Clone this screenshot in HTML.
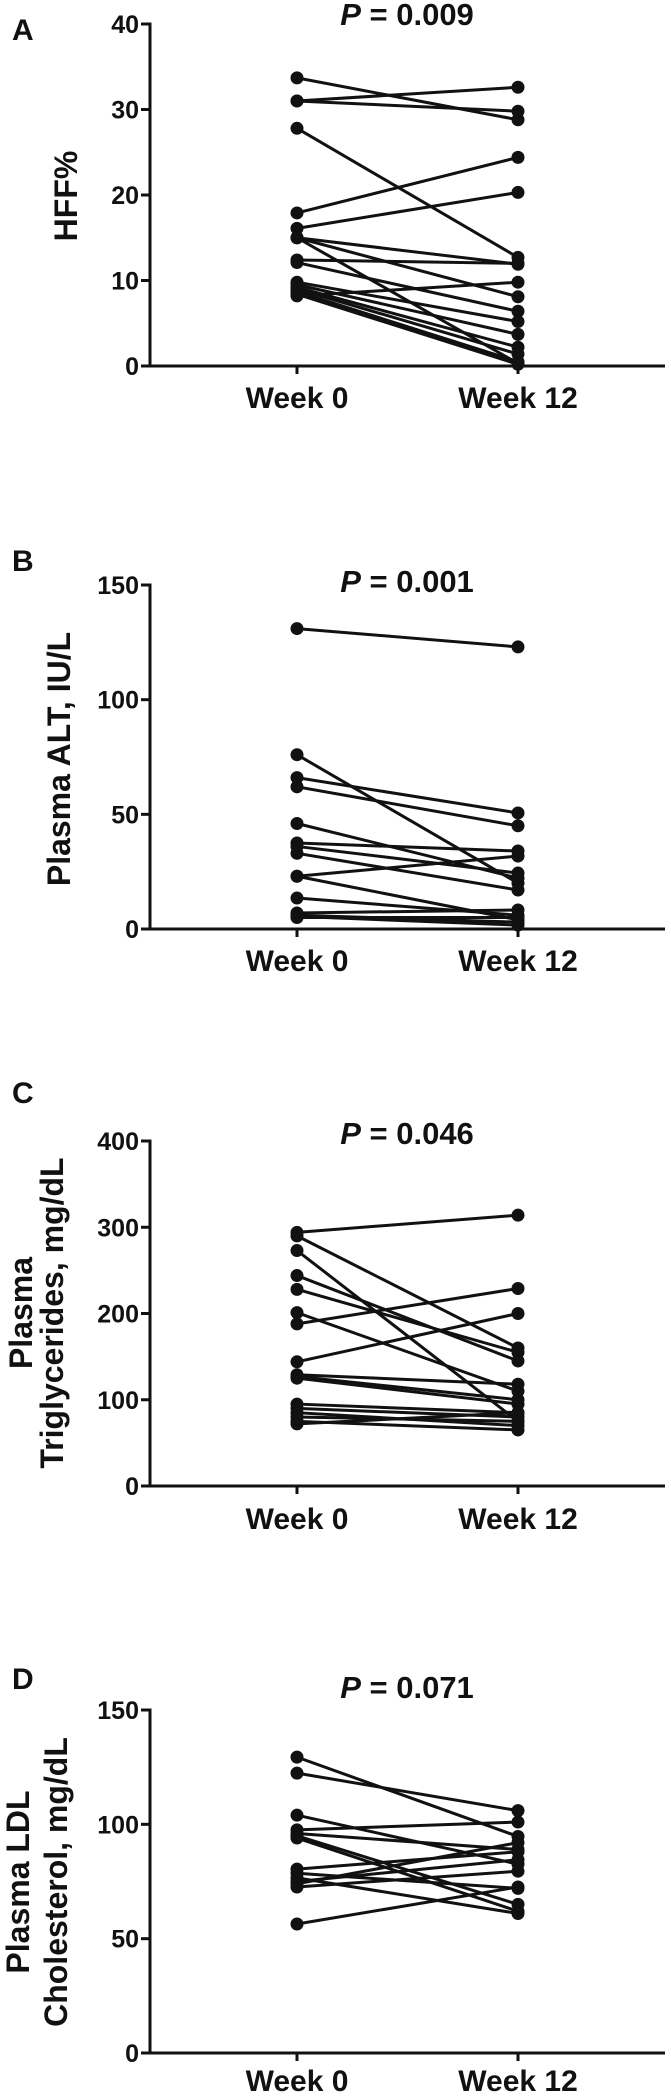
<!DOCTYPE html>
<html><head><meta charset="utf-8"><style>
html,body{margin:0;padding:0;background:#fff;}
svg{display:block;}
text{font-family:"Liberation Sans",Arial,sans-serif;font-weight:bold;fill:#111;}
</style></head><body>
<svg id="fig" width="671" height="2097" viewBox="0 0 671 2097" xmlns="http://www.w3.org/2000/svg"></svg>
<script>
// Panel A – HFF%
const hffWeek0 = [33.7, 31, 31, 27.8, 17.9, 16.1, 15, 15, 15, 12.4, 12.1, 9.8, 9.5, 9.2, 9, 8.7, 8.4, 8.2];
const hffWeek12 = [28.8, 32.6, 29.8, 12.7, 24.4, 20.3, 11.9, 8.1, 0.3, 12.0, 6.4, 5.2, 3.7, 2.2, 1.4, 0.5, 0.2, 9.8];
const hffTicks = [0, 10, 20, 30, 40];
// Panel B – ALT
const altWeek0 = [131, 76, 66, 62, 46, 37.5, 36, 33, 23, 23, 13.5, 7, 6, 5.5, 5];
const altWeek12 = [123, 20, 50.6, 45, 22.2, 34, 24.4, 17, 31.8, 4, 6, 8.3, 3, 1.7, 5];
const altTicks = [0, 50, 100, 150];
// Panel C – triglycerides
const tgWeek0 = [294, 290, 273, 244, 228, 201, 188, 144, 129, 127, 125, 95, 90, 85, 80, 75, 72];
const tgWeek12 = [314, 160, 75, 145, 155, 110, 229, 200, 118, 100, 95, 85, 80, 70, 75, 65, 85];
const tgTicks = [0, 100, 200, 300, 400];
// Panel D – LDL
const ldlWeek0 = [129.4, 122.4, 104, 97.6, 96, 95, 94, 80.4, 78.6, 76.6, 75, 74, 72.6, 56.4];
const ldlWeek12 = [94.7, 106, 82.6, 101, 89, 65, 62, 88, 72, 61, 84.5, 92, 79.5, 72.6];
const ldlTicks = [0, 50, 100, 150];
const categories = ["Week 0", "Week 12"];

const NS = "http://www.w3.org/2000/svg";
const svg = document.getElementById("fig");
function mk(tag, attrs, parent) {
  const e = document.createElementNS(NS, tag);
  for (const k in attrs) e.setAttribute(k, attrs[k]);
  (parent || svg).appendChild(e);
  return e;
}
const AX = 150, AXEND = 665, XW0 = 297, XW12 = 518;

function panel(cfg) {
  const g = mk("g", {});
  
  
  const maxV = cfg.ticks[cfg.ticks.length - 1];
  const y = v => cfg.y0 - (cfg.y0 - cfg.yTop) * v / maxV;
  const xs = [XW0, XW12];
  // letter
  const L = mk("text", {x: 12, y: cfg.letterY, "font-size": 30}, g);
  L.textContent = cfg.letter;
  
  
  // p value
  const P = mk("text", {x: 407, y: cfg.pY, "font-size": 31, "text-anchor": "middle"}, g);
  
  
  const pi = mk("tspan", {"font-style": "italic"}, P); pi.textContent = "P";
  const pr = mk("tspan", {}, P); pr.textContent = " = " + cfg.p;
  // y axis
  const ya = mk("line", {x1: AX, y1: cfg.yTop - 1.5, x2: AX, y2: cfg.y0, stroke: "#111", "stroke-width": 3}, g);
  
  
  cfg.ticks.forEach(t => {
    const tk = mk("line", {x1: AX - 9, y1: y(t), x2: AX, y2: y(t), stroke: "#111", "stroke-width": 3}, g);
    
    
    const tl = mk("text", {x: 139, y: y(t) + 9, "font-size": 25, "text-anchor": "end"}, g);
    tl.textContent = t;
    
    
  });
  // x axis
  const xa = mk("line", {x1: AX - 1.5, y1: cfg.y0, x2: AXEND, y2: cfg.y0, stroke: "#111", "stroke-width": 3}, g);
  
  
  categories.forEach((c, i) => {
    const tk = mk("line", {x1: xs[i], y1: cfg.y0, x2: xs[i], y2: cfg.y0 + 8, stroke: "#111", "stroke-width": 3}, g);
    
    
    const tl = mk("text", {x: xs[i], y: cfg.weekY, "font-size": 30, "text-anchor": "middle"}, g);
    tl.textContent = c;
    
    
  });
  // y title
  const tt = mk("text", {"font-size": 32, "text-anchor": "middle", transform: "translate(0," + cfg.titleY + ") rotate(-90)"}, g);
  
  
  cfg.title.forEach((line, i) => {
    const ts = mk("tspan", {x: 0, y: cfg.titleX[i]}, tt);
    ts.textContent = line;
  });
  // series
  const n = Math.min(cfg.a.length, cfg.b.length);
  for (let i = 0; i < n; i++) {
    const ln = mk("line", {x1: XW0, y1: y(cfg.a[i]), x2: XW12, y2: y(cfg.b[i]), stroke: "#111", "stroke-width": 3}, g);
    
    
  }
  for (let i = 0; i < n; i++) {
    const c0 = mk("circle", {cx: XW0, cy: y(cfg.a[i]), r: 6.5, fill: "#111"}, g);
    
    
    const c1 = mk("circle", {cx: XW12, cy: y(cfg.b[i]), r: 6.5, fill: "#111"}, g);
    
    
  }
}

panel({name: "panel-a-hff", letter: "A", letterY: 40, p: "0.009", pY: 25, yTop: 24, y0: 366, ticks: hffTicks,
  weekY: 408, title: ["HFF%"], titleY: 196, titleX: [77], a: hffWeek0, b: hffWeek12});
panel({name: "panel-b-alt", letter: "B", letterY: 571, p: "0.001", pY: 592, yTop: 585, y0: 929, ticks: altTicks,
  weekY: 971, title: ["Plasma ALT, IU/L"], titleY: 759, titleX: [70], a: altWeek0, b: altWeek12});
panel({name: "panel-c-triglycerides", letter: "C", letterY: 1103, p: "0.046", pY: 1144, yTop: 1141, y0: 1486, ticks: tgTicks,
  weekY: 1529, title: ["Plasma", "Triglycerides, mg/dL"], titleY: 1313, titleX: [32, 63], a: tgWeek0, b: tgWeek12});
panel({name: "panel-d-ldl", letter: "D", letterY: 1689, p: "0.071", pY: 1698, yTop: 1710, y0: 2053, ticks: ldlTicks,
  weekY: 2091, title: ["Plasma LDL", "Cholesterol, mg/dL"], titleY: 1882, titleX: [29, 67], a: ldlWeek0, b: ldlWeek12});
</script>
</body></html>
